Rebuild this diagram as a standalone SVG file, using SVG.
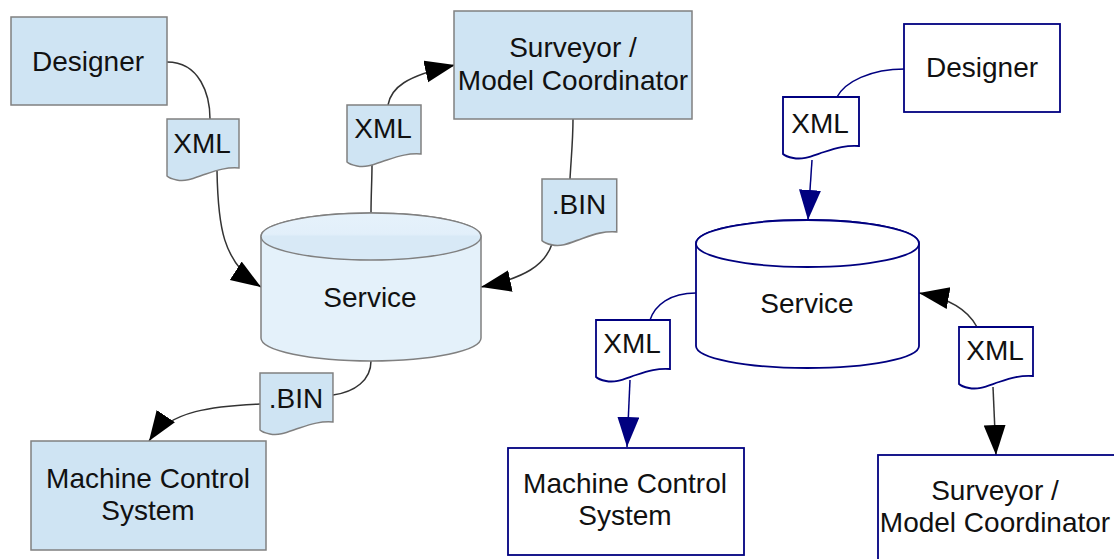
<svg xmlns="http://www.w3.org/2000/svg" xmlns:xlink="http://www.w3.org/1999/xlink" width="1114" height="559" viewBox="0 0 1114 559">
<style>
text{font-family:"Liberation Sans",Arial,sans-serif;font-size:28px;fill:#111;text-anchor:middle}
.lbox{fill:#cfe4f3;stroke:#808080;stroke-width:1.5}
.rbox{fill:#fff;stroke:#000080;stroke-width:1.8}
.lcyl{fill:#e4f1fa;stroke:#808080;stroke-width:1.5}
.rcyl{fill:#fff;stroke:#000080;stroke-width:1.8}
.lcon{fill:none;stroke:#333;stroke-width:1.5}
.rcon{fill:none;stroke:#000080;stroke-width:1.5}
.kcon{fill:none;stroke:#333;stroke-width:1.5}
</style>
<defs>
<path id="doc" d="M0,0 h74 v49 c-12,-1 -22,2 -34,6 c-12,4 -20,8 -30,6 c-5,-1 -8,-2 -10,-4 z"/>
<linearGradient id="capL" x1="0" y1="0" x2="0" y2="1">
<stop offset="0" stop-color="#e6f2fb"/><stop offset="0.45" stop-color="#e2effa"/><stop offset="0.5" stop-color="#d8e9f6"/><stop offset="1" stop-color="#d8e9f6"/>
</linearGradient>
<marker id="ak" markerUnits="userSpaceOnUse" markerWidth="32" markerHeight="24" refX="30" refY="11" orient="auto"><path d="M0,0 L30,11 L0,22 z" fill="#000"/></marker>
<marker id="an" markerUnits="userSpaceOnUse" markerWidth="32" markerHeight="24" refX="30" refY="11" orient="auto"><path d="M0,0 L30,11 L0,22 z" fill="#000080"/></marker>
</defs>

<g id="connectors">
<path class="lcon" d="M167,62 C200,62 210,95 210,119"/>
<path class="lcon" d="M217,171 C218,225 222,262 261,287" marker-end="url(#ak)"/>
<path class="lcon" d="M371,213 C371,195 372,180 372,165"/>
<path class="lcon" d="M388,105 C391,88 405,76 455,65" marker-end="url(#ak)"/>
<path class="lcon" d="M573,119 C573,140 571,160 570,179"/>
<path class="lcon" d="M552,244 C545,265 525,278 481,287" marker-end="url(#ak)"/>
<path class="lcon" d="M371,361 C371,380 355,392 333,395"/>
<path class="lcon" d="M260,404 C215,406 170,410 149,441" marker-end="url(#ak)"/>
<path class="rcon" d="M905,69 C870,69 845,82 837,97"/>
<path class="rcon" d="M812,160 L808,220" marker-end="url(#an)"/>
<path class="rcon" d="M696,293 C670,293 655,305 650,320"/>
<path class="rcon" d="M630,380 L627,447" marker-end="url(#an)"/>
<path class="kcon" d="M977,327 C968,310 948,298 919,293" marker-end="url(#ak)"/>
<path class="kcon" d="M993,387 L996,455" marker-end="url(#ak)"/>
</g>

<g id="l-designer"><rect class="lbox" x="11" y="17" width="156" height="88"/><text x="88" y="71">Designer</text></g>
<g id="l-surveyor"><rect class="lbox" x="454" y="11" width="238" height="108"/><text x="573" y="57">Surveyor /</text><text x="573" y="90">Model Coordinator</text></g>
<g id="l-mcs"><rect class="lbox" x="31" y="441" width="235" height="109"/><text x="148" y="488">Machine Control</text><text x="148" y="520">System</text></g>
<g id="l-service">
<path class="lcyl" d="M261,236.5 L261,338 A110,23 0 0 0 481,338 L481,236.5 A110,23.5 0 0 0 261,236.5 Z"/>
<ellipse cx="371" cy="236.5" rx="110" ry="23.5" fill="url(#capL)" stroke="#808080" stroke-width="1.5"/>
<text x="370" y="307">Service</text>
</g>
<g id="l-xml1"><use xlink:href="#doc" class="lbox" transform="translate(167,119) scale(0.973,1)"/><text x="202" y="153">XML</text></g>
<g id="l-xml2"><use xlink:href="#doc" class="lbox" transform="translate(347,105)"/><text x="383" y="138">XML</text></g>
<g id="l-bin1"><use xlink:href="#doc" class="lbox" transform="translate(542,179) scale(1.01,1.08)"/><text x="579" y="214">.BIN</text></g>
<g id="l-bin2"><use xlink:href="#doc" class="lbox" transform="translate(260,373) scale(0.986,1)"/><text x="296" y="408">.BIN</text></g>

<g id="r-designer"><rect class="rbox" x="904" y="24" width="156" height="88"/><text x="982" y="77">Designer</text></g>
<g id="r-mcs"><rect class="rbox" x="508" y="448" width="236" height="107"/><text x="625" y="493">Machine Control</text><text x="625" y="525">System</text></g>
<g id="r-surveyor"><rect class="rbox" x="878" y="455" width="240" height="110"/><text x="995" y="500">Surveyor /</text><text x="995" y="532">Model Coordinator</text></g>
<g id="r-service">
<path class="rcyl" d="M696,243.5 L696,346 A111.5,22 0 0 0 919,346 L919,243.5 A111.5,23.5 0 0 0 696,243.5 Z"/>
<ellipse class="rcyl" cx="807.5" cy="243.5" rx="111.5" ry="23.5"/>
<text x="807" y="313">Service</text>
</g>
<g id="r-xml1"><use xlink:href="#doc" class="rbox" transform="translate(783,97) scale(1.027,1)"/><text x="820" y="133">XML</text></g>
<g id="r-xml2"><use xlink:href="#doc" class="rbox" transform="translate(596,320)"/><text x="632" y="353">XML</text></g>
<g id="r-xml3"><use xlink:href="#doc" class="rbox" transform="translate(959,327)"/><text x="995" y="360">XML</text></g>
</svg>
